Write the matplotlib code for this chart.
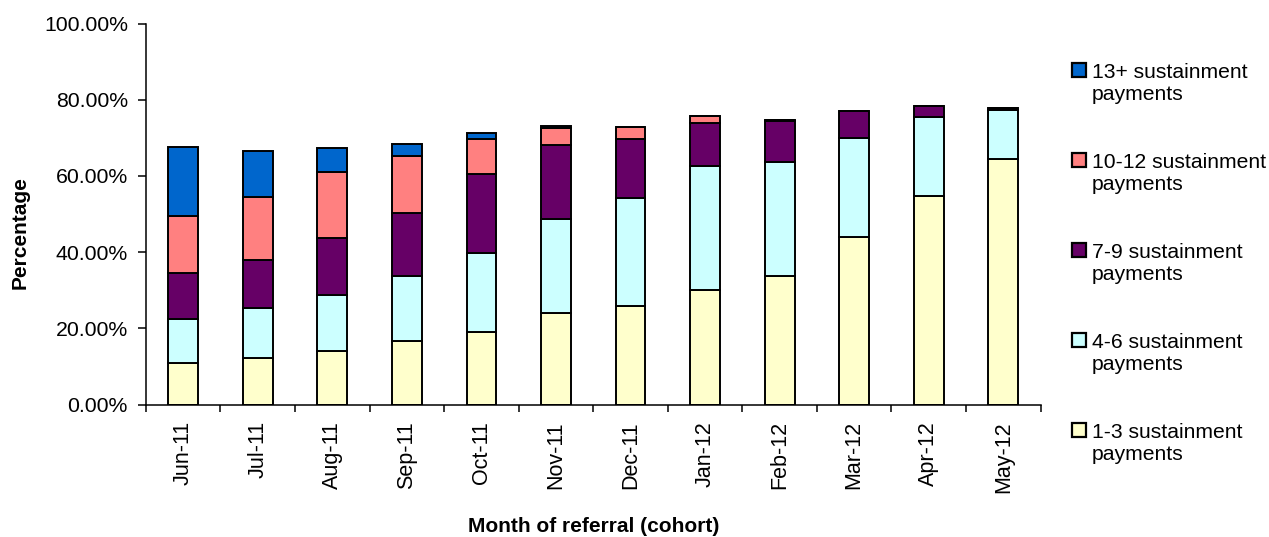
import matplotlib
matplotlib.use("Agg")
import matplotlib.pyplot as plt
from matplotlib.patches import Rectangle
from matplotlib.ticker import FixedLocator, FuncFormatter, NullFormatter
import numpy as np

plt.rcParams["font.family"] = ["Liberation Sans", "DejaVu Sans"]

MONTHS = ["Jun-11", "Jul-11", "Aug-11", "Sep-11", "Oct-11", "Nov-11",
          "Dec-11", "Jan-12", "Feb-12", "Mar-12", "Apr-12", "May-12"]

# share of each cohort (%) by number of sustainment payments received
PAY_1_3 = [11.0, 12.1, 14.0, 16.7, 19.1, 23.9, 25.9, 30.1, 33.8, 43.9, 54.6, 64.4]
PAY_4_6 = [11.4, 13.3, 14.7, 17.0, 20.7, 24.9, 28.2, 32.6, 29.8, 26.1, 20.8, 12.8]
PAY_7_9 = [12.2, 12.5, 14.9, 16.6, 20.6, 19.3, 15.6, 11.3, 10.7, 7.0, 3.0, 0.5]
PAY_10_12 = [15.0, 16.5, 17.4, 15.0, 9.2, 4.6, 3.2, 1.7, 0.4, 0.0, 0.0, 0.0]
PAY_13_PLUS = [18.1, 12.1, 6.4, 3.1, 1.6, 0.3, 0.0, 0.0, 0.0, 0.0, 0.0, 0.0]

SERIES = [
    ("1-3 sustainment\npayments", PAY_1_3, "#FFFFCC"),
    ("4-6 sustainment\npayments", PAY_4_6, "#CCFFFF"),
    ("7-9 sustainment\npayments", PAY_7_9, "#660066"),
    ("10-12 sustainment\npayments", PAY_10_12, "#FF8080"),
    ("13+ sustainment\npayments", PAY_13_PLUS, "#0066CC"),
]

W, H = 1269, 537
fig = plt.figure(figsize=(W / 100, H / 100), dpi=100)
ax = fig.add_axes([0.115, 0.2467, 0.705, 0.7095])

x = np.arange(len(MONTHS))
bottom = np.zeros(len(MONTHS))
for label, vals, color in SERIES:
    vals = np.array(vals) / 100.0
    ax.bar(x, vals, width=0.4, bottom=bottom, color=color,
           edgecolor="black", linewidth=1.4, label=label)
    bottom += vals

ax.set_xlim(-0.5, len(MONTHS) - 0.5)
ax.set_ylim(0, 1.0)
ax.set_yticks(np.arange(0, 1.01, 0.2))
ax.yaxis.set_major_formatter(FuncFormatter(lambda v, _: f"{v * 100:.2f}%"))
ax.tick_params(axis="y", direction="out", length=6, width=1.1, pad=7, labelsize=15.3)

# category boundaries carry the ticks, labels sit at bar centres
ax.xaxis.set_major_locator(FixedLocator(np.arange(-0.5, len(MONTHS), 1.0)))
ax.xaxis.set_major_formatter(NullFormatter())
ax.xaxis.set_minor_locator(FixedLocator(x))
ax.set_xticklabels(MONTHS, minor=True, rotation=90, va="top", ha="center")
ax.tick_params(axis="x", which="major", direction="out", length=5, width=1.1)
ax.tick_params(axis="x", which="minor", length=0, pad=12, labelsize=15.5)

for side in ("top", "right"):
    ax.spines[side].set_visible(False)
for side in ("left", "bottom"):
    ax.spines[side].set_linewidth(1.1)

ax.set_xlabel("Month of referral (cohort)", fontsize=15, fontweight="bold")
ax.xaxis.set_label_coords(0.5, -0.295)
fig.text(20 / W, 1 - 233 / H, "Percentage", rotation=90, fontsize=15,
         fontweight="bold", ha="center", va="center")

# legend: square swatch beside the first line of each two-line label
first_baseline = 78
step = 90
for i, (label, _, color) in enumerate(SERIES[::-1]):
    base = first_baseline + i * step
    fig.add_artist(Rectangle((1072 / W, 1 - (base - 1) / H), 14 / W, 14 / H,
                             transform=fig.transFigure, facecolor=color,
                             edgecolor="black", linewidth=1.6))
    line1, line2 = label.split("\n")
    fig.text(1092 / W, 1 - base / H, line1, fontsize=15.2, va="baseline", ha="left")
    fig.text(1092 / W, 1 - (base + 22) / H, line2, fontsize=15.2, va="baseline", ha="left")

fig.savefig("out.png", dpi=100)
